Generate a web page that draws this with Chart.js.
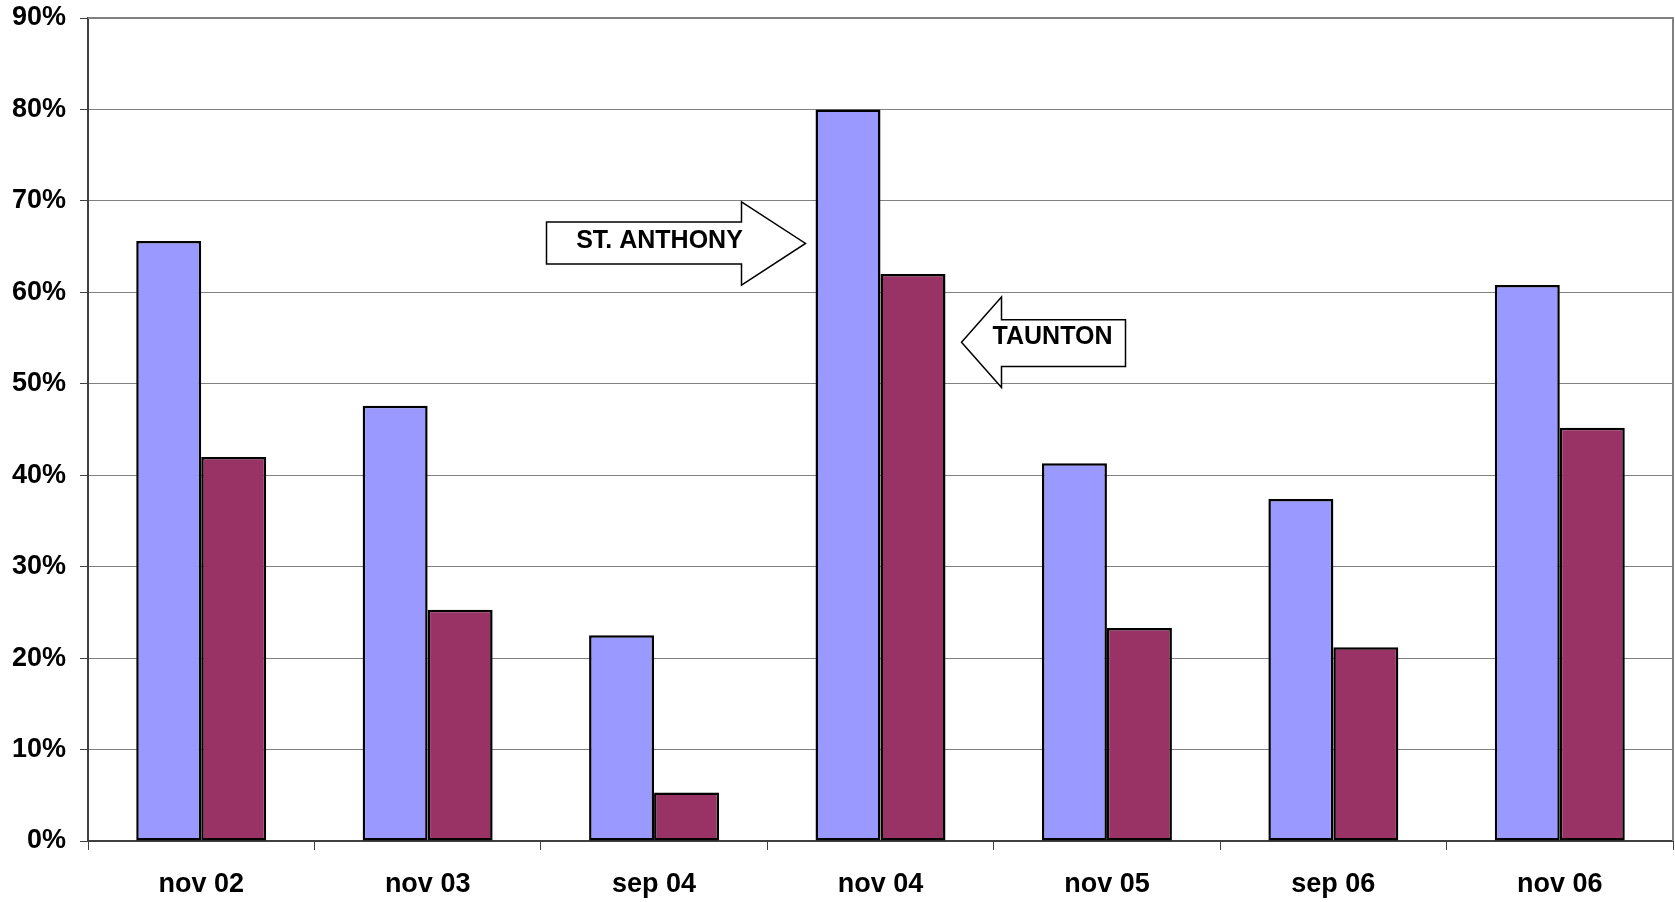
<!DOCTYPE html>
<html><head><meta charset="utf-8">
<script src="https://cdn.jsdelivr.net/npm/chart.js@4"></script>
<style>html,body{margin:0;padding:0;background:#fff;overflow:hidden}#wrap{width:1675px;height:902px}</style>
</head><body><div id="wrap"><canvas id="c" width="1675" height="902"></canvas></div>
<script>
const categories = ['nov 02','nov 03','sep 04','nov 04','nov 05','sep 06','nov 06'];
const stAnthony = [65.6, 47.6, 22.5, 80.0, 41.3, 37.4, 60.8];
const taunton   = [42.0, 25.3, 5.3, 62.0, 23.3, 21.2, 45.2];
const yMin = 0, yMax = 90, yStep = 10;

const FONT = '"Liberation Sans", Arial, Helvetica, sans-serif';

const frame = {
  id: 'frame',
  afterDraw(chart) {
    const {ctx, chartArea: a} = chart;
    ctx.save();
    ctx.strokeStyle = '#808080';
    ctx.lineWidth = 2;
    ctx.beginPath();
    ctx.moveTo(a.left, a.top); ctx.lineTo(a.right, a.top); ctx.lineTo(a.right, a.bottom);
    ctx.stroke();
    ctx.restore();
  }
};

const arrows = {
  id: 'arrows',
  afterDraw(chart) {
    const {ctx} = chart;
    const x = chart.scales.x, y = chart.scales.y;
    const cx = x.getPixelForValue(3);
    const Y = v => y.getPixelForValue(v);
    ctx.save();
    ctx.lineWidth = 1.5;
    ctx.strokeStyle = '#000';
    ctx.fillStyle = '#fff';
    // ST. ANTHONY (right-pointing)
    ctx.beginPath();
    ctx.moveTo(cx - 334, Y(67.7));
    ctx.lineTo(cx - 139, Y(67.7));
    ctx.lineTo(cx - 139, Y(69.9));
    ctx.lineTo(cx - 75, Y(65.35));
    ctx.lineTo(cx - 139, Y(60.8));
    ctx.lineTo(cx - 139, Y(63.1));
    ctx.lineTo(cx - 334, Y(63.1));
    ctx.closePath();
    ctx.fill(); ctx.stroke();
    // TAUNTON (left-pointing)
    ctx.beginPath();
    ctx.moveTo(cx + 245, Y(57.0));
    ctx.lineTo(cx + 121, Y(57.0));
    ctx.lineTo(cx + 121, Y(59.5));
    ctx.lineTo(cx + 81, Y(54.55));
    ctx.lineTo(cx + 121, Y(49.6));
    ctx.lineTo(cx + 121, Y(51.9));
    ctx.lineTo(cx + 245, Y(51.9));
    ctx.closePath();
    ctx.fill(); ctx.stroke();
    ctx.fillStyle = '#000';
    ctx.font = 'bold 25px ' + FONT;
    ctx.textAlign = 'center';
    ctx.textBaseline = 'middle';
    ctx.fillText('ST. ANTHONY', cx - 221, Y(65.6));
    ctx.fillText('TAUNTON', cx + 172, Y(55.1));
    ctx.restore();
  }
};

new Chart(document.getElementById('c'), {
  type: 'bar',
  data: {
    labels: categories,
    datasets: [
      {label: 'ST. ANTHONY', data: stAnthony, backgroundColor: '#9999FF', borderColor: '#000', borderWidth: 2.5, borderSkipped: false},
      {label: 'TAUNTON', data: taunton, backgroundColor: '#993366', borderColor: '#000', borderWidth: 2.5, borderSkipped: false}
    ]
  },
  options: {
    responsive: false,
    devicePixelRatio: 1,
    animation: false,
    layout: {padding: {top: 18, right: 2, left: 0, bottom: 0}},
    datasets: {bar: {categoryPercentage: 0.574, barPercentage: 1.0}},
    plugins: {legend: {display: false}, tooltip: {enabled: false}},
    scales: {
      x: {
        grid: {offset: true, drawOnChartArea: false, drawTicks: true, tickLength: 9, color: '#404040', lineWidth: 1},
        border: {display: true, color: '#404040', width: 2},
        ticks: {color: '#000', font: {family: FONT, size: 27, weight: 'bold'}, padding: 18, maxRotation: 0},
        afterFit(s) { s.height = 61; s.paddingLeft = 0; s.paddingRight = 0; }
      },
      y: {
        min: yMin, max: yMax,
        grid: {color: '#808080', lineWidth: 1, tickLength: 8, tickColor: '#404040'},
        border: {display: true, color: '#404040', width: 2},
        ticks: {stepSize: yStep, color: '#000', font: {family: FONT, size: 27, weight: 'bold'}, padding: 14,
                callback: v => v + '%'},
        afterFit(s) { s.width = 88; s.paddingTop = 0; s.paddingBottom = 0; }
      }
    }
  },
  plugins: [frame, arrows]
});
</script>
</body></html>
